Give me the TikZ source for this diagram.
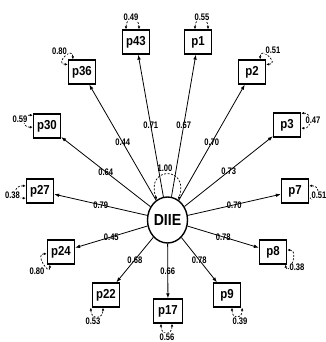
\documentclass[tikz,border=0pt]{standalone}
\usepackage{fontspec}
\setmainfont{Liberation Sans}
\newfontfamily\boxfont[FakeStretch=0.88]{Liberation Sans}
\newfontfamily\coeffont[FakeStretch=0.8]{Liberation Sans}
\usetikzlibrary{arrows.meta,shapes.geometric,calc}

\begin{document}
\begin{tikzpicture}[x=1pt,y=1pt,
  indicator/.style={draw, line width=1.3pt, minimum width=27pt, minimum height=24pt,
    inner sep=1pt, font=\boxfont\bfseries\fontsize{13}{13}\selectfont},
  factor/.style={draw, ellipse, line width=1.4pt, minimum width=40pt, minimum height=46pt,
    inner sep=0pt, font=\boxfont\bfseries\fontsize{16}{16}\selectfont},
  coef/.style={font=\coeffont\bfseries\fontsize{9.5}{9.5}\selectfont, inner sep=0.5pt, midway},
  varlab/.style={font=\coeffont\bfseries\fontsize{9.5}{9.5}\selectfont, inner sep=0.3pt, fill=white},
  conn/.style={line width=0.8pt, -{Latex[length=5pt,width=3.6pt]}},
  err/.style={line width=0.7pt, dash pattern=on 2pt off 1.5pt,
    {Latex[length=3pt,width=2.6pt]}-{Latex[length=3pt,width=2.6pt]}}]

% canvas
\path[use as bounding box, fill=white] (0,0) rectangle (325,342);

% latent factor
\node[factor] (D) at (167.5,122) {DIIE};

% observed indicators
\node[indicator] (p43) at (136,300) {p43};
\node[indicator] (p1)  at (198,300) {p1};
\node[indicator] (p36) at (82,270)  {p36};
\node[indicator] (p2)  at (252,270) {p2};
\node[indicator] (p30) at (47,216)  {p30};
\node[indicator] (p3)  at (287,217) {p3};
\node[indicator] (p27) at (40,151)  {p27};
\node[indicator] (p7)  at (295,151) {p7};
\node[indicator] (p24) at (61,90)   {p24};
\node[indicator] (p8)  at (273,90)  {p8};
\node[indicator] (p22) at (106,47)  {p22};
\node[indicator] (p9)  at (227,47)  {p9};
\node[indicator, minimum width=29pt] (p17) at (168,31) {p17};

% factor loadings
\draw[conn] (D) -- (p43) node[coef] {0.71};
\draw[conn] (D) -- (p1)  node[coef] {0.67};
\draw[conn] (D) -- (p36) node[coef] {0.44};
\draw[conn] (D) -- (p2)  node[coef] {0.70};
\draw[conn] (D) -- (p30) node[coef] {0.64};
\draw[conn] (D) -- (p3)  node[coef] {0.73};
\draw[conn] (D) -- (p27) node[coef] {0.79};
\draw[conn] (D) -- (p7)  node[coef] {0.70};
\draw[conn] (D) -- (p24) node[coef] {0.45};
\draw[conn] (D) -- (p8)  node[coef] {0.78};
\draw[conn] (D) -- (p22) node[coef] {0.68};
\draw[conn] (D) -- (p9)  node[coef] {0.78};
\draw[conn] (D) -- (p17) node[coef] {0.66};

% factor variance
\draw[err] (D.118) .. controls +(-12,34) and +(12,34) .. (D.62);
\node[font=\coeffont\bfseries\fontsize{9.5}{9.5}\selectfont, inner sep=0.3pt] (vD) at (165,174) {1.00};

% residual variances
\draw[err] ($(p43.north)+(-10,0)$) .. controls +(0,13) and +(0,13) .. ($(p43.north)+(3,0)$);
\draw[err] ($(p1.north)+(-3,0)$) .. controls +(0,13) and +(0,13) .. ($(p1.north)+(10,0)$);
\draw[err] ($(p36.north west)+(5,0)$) .. controls +(0,14) and +(-14,0) .. ($(p36.north west)+(0,-5)$);
\draw[err] ($(p2.north east)+(-6,0)$) .. controls +(0,14) and +(14,0) .. ($(p2.north east)+(0,-5)$);
\draw[err] ($(p30.north west)+(0,-2)$) .. controls +(-11,1) and +(-11,-1) .. ($(p30.west)+(0,-1)$);
\draw[err] ($(p27.west)+(0,5)$) .. controls +(-13,1) and +(-13,-1) .. ($(p27.west)+(0,-7)$);
\draw[err] ($(p3.north east)+(0,-1)$) .. controls +(11,1) and +(11,-1) .. ($(p3.east)+(0,-3)$);
\draw[err] ($(p7.east)+(0,5)$) .. controls +(11,1) and +(11,-1) .. ($(p7.east)+(0,-7)$);
\draw[err] ($(p8.east)+(0,2)$) .. controls +(13,0) and +(3,-12) .. ($(p8.south east)+(-2,0)$);
\draw[err] ($(p9.south)+(5,0)$) .. controls +(0,-12) and +(0,-12) .. ($(p9.south east)+(1,0)$);
\draw[err] ($(p17.south)+(-7,0)$) .. controls +(0,-12) and +(0,-12) .. ($(p17.south)+(4,0)$);
\draw[err] ($(p22.south west)+(-1,0)$) .. controls +(0,-12) and +(0,-12) .. ($(p22.south)+(-3,0)$);
\draw[err] ($(p24.west)+(0,-2)$) .. controls +(-13,1) and +(0,-12) .. ($(p24.south west)+(3,0)$);

\node[varlab] (v43) at (131,325)  {0.49};
\node[varlab] (v1)  at (202,325)  {0.55};
\node[varlab] (v36) at (59.5,291) {0.80};
\node[varlab] (v2)  at (273,292)  {0.51};
\node[varlab] (v30) at (20,223)   {0.59};
\node[varlab] (v27) at (12.5,147) {0.38};
\node[varlab] (v3)  at (313,222)  {0.47};
\node[varlab] (v7)  at (319,147)  {0.51};
\node[varlab] (v8)  at (297,74.5) {0.38};
\node[varlab] (v9)  at (240,21)   {0.39};
\node[varlab] (v17) at (167,5)    {0.56};
\node[varlab] (v22) at (93,21)    {0.53};
\node[varlab] (v24) at (37,70.5)  {0.80};
\end{tikzpicture}
\end{document}
